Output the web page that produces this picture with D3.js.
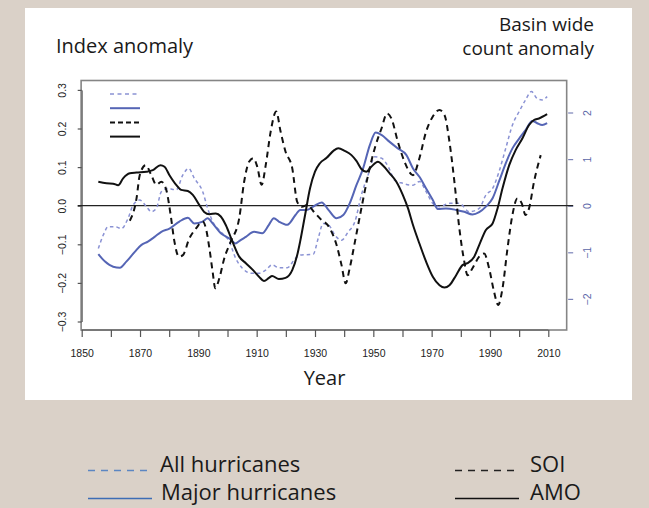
<!DOCTYPE html>
<html><head><meta charset="utf-8">
<script src="https://cdn.jsdelivr.net/npm/d3@7"></script>
<style>body{margin:0;background:#dad1c8;} svg{display:block}</style>
</head><body><svg id="c" width="649" height="508"></svg>
<script>
// ---- data ----
const tickYears = [1850,1860,1870,1880,1890,1900,1910,1920,1930,1940,1950,1960,1970,1980,1990,2000,2010];
const labelYears = [1850,1870,1890,1910,1930,1950,1970,1990,2010];
const leftTicks = [-0.3,-0.2,-0.1,0,0.1,0.2,0.3];
const rightTicks = [-2,-1,0,1,2];
const seriesNames = ["All hurricanes","Major hurricanes","SOI","AMO"];

// AMO index anomaly (left axis)
const amo = [[1855.7,0.062],[1858.5,0.058],[1860.8,0.057],[1862.5,0.053],[1864.2,0.071],[1866.5,0.084],[1868.8,0.086],[1872.2,0.088],[1874.4,0.092],[1877,0.105],[1878.4,0.101],[1880.1,0.079],[1882.4,0.054],[1884.1,0.041],[1886.4,0.038],[1888.1,0.028],[1890.3,0.002],[1892,-0.016],[1893.8,-0.022],[1896,-0.020],[1897.7,-0.028],[1899.4,-0.050],[1901.7,-0.093],[1904,-0.132],[1906.3,-0.149],[1908.5,-0.165],[1910.8,-0.184],[1912.5,-0.195],[1914.2,-0.187],[1915.3,-0.182],[1917.6,-0.190],[1919.9,-0.187],[1922.2,-0.167],[1923.9,-0.128],[1924.9,-0.093],[1926.6,-0.024],[1928.3,0.045],[1930,0.088],[1931.7,0.110],[1934,0.124],[1936.3,0.142],[1938,0.149],[1940.2,0.142],[1942.5,0.131],[1944.2,0.116],[1945.9,0.095],[1947.6,0.088],[1949.3,0.101],[1951.6,0.114],[1953.3,0.104],[1955.6,0.084],[1957.9,0.062],[1960.1,0.028],[1961.9,-0.007],[1963.6,-0.050],[1965.8,-0.098],[1968.1,-0.145],[1970.4,-0.184],[1972.7,-0.206],[1974.4,-0.212],[1976.1,-0.206],[1978.4,-0.180],[1980.6,-0.154],[1982.3,-0.149],[1984.6,-0.132],[1986.3,-0.102],[1988.6,-0.063],[1990.9,-0.046],[1992.6,-0.007],[1994.3,0.045],[1996.6,0.105],[1998.8,0.144],[2001.1,0.174],[2003.4,0.209],[2005.1,0.222],[2006.8,0.226],[2009.6,0.237]];

// SOI index anomaly (left axis)
const soi = [[1866.5,-0.039],[1868.8,0.019],[1869.9,0.079],[1871.9,0.105],[1873.9,0.079],[1875.6,0.054],[1877.3,0.062],[1879,0.041],[1880.5,-0.024],[1881.8,-0.093],[1883.3,-0.132],[1884.7,-0.128],[1886.9,-0.085],[1889.2,-0.059],[1891.5,-0.041],[1892.6,-0.059],[1893.8,-0.111],[1894.9,-0.171],[1895.8,-0.214],[1897.2,-0.188],[1898.9,-0.136],[1901.1,-0.093],[1904,-0.033],[1905.7,0.062],[1907.4,0.114],[1908.9,0.123],[1910.2,0.101],[1911.7,0.054],[1913.1,0.105],[1914.8,0.192],[1916.7,0.244],[1918.2,0.192],[1919.9,0.140],[1922.2,0.097],[1923.9,0.010],[1925.5,-0.003],[1927.5,0.002],[1929.5,-0.015],[1931.7,-0.033],[1935.1,-0.059],[1937.4,-0.102],[1939.1,-0.154],[1940.5,-0.201],[1941.9,-0.162],[1943.7,-0.093],[1945.9,-0.007],[1948.2,0.079],[1950.5,0.149],[1952.8,0.200],[1954.7,0.239],[1956.2,0.226],[1958.4,0.166],[1960.7,0.114],[1963.6,0.079],[1965.8,0.123],[1968.1,0.192],[1970.4,0.231],[1972.7,0.248],[1974.4,0.235],[1976.1,0.166],[1977.8,0.062],[1979.5,-0.059],[1981.2,-0.145],[1982.3,-0.180],[1984,-0.162],[1986.3,-0.132],[1988,-0.124],[1989.7,-0.162],[1991.4,-0.223],[1992.8,-0.257],[1994.3,-0.214],[1996,-0.111],[1997.7,-0.024],[1999.4,0.019],[2000.9,0.006],[2002.2,-0.024],[2003.4,-0.007],[2005.1,0.062],[2007.4,0.131]];

// All hurricanes count anomaly (right axis)
const allHur = [[1855.7,-0.92],[1857.4,-0.63],[1859.1,-0.45],[1861.4,-0.45],[1863.6,-0.49],[1865.9,-0.27],[1867.6,0.01],[1869.9,0.12],[1872.2,-0.02],[1873.9,-0.13],[1875.6,-0.06],[1877.3,0.30],[1879.5,0.37],[1882.4,0.34],[1884.7,0.66],[1886.7,0.80],[1888.6,0.59],[1891.5,0.30],[1893.2,-0.06],[1894.9,-0.34],[1897.7,-0.56],[1900.6,-0.77],[1902.8,-1.13],[1905.1,-1.34],[1908,-1.45],[1910.8,-1.45],[1913.1,-1.38],[1915.3,-1.27],[1917.6,-1.33],[1920.5,-1.33],[1923.3,-1.13],[1924.9,-1.06],[1929.4,-1.04],[1931.1,-0.70],[1932.8,-0.38],[1934.6,-0.41],[1936.8,-0.63],[1939.1,-0.74],[1941.4,-0.56],[1943.7,-0.34],[1945.9,0.23],[1948.2,0.66],[1950.5,1.05],[1952.8,1.02],[1955.1,0.84],[1957.3,0.55],[1960.1,0.48],[1963.6,0.44],[1965.8,0.52],[1968.1,0.30],[1970.4,0.05],[1972.7,-0.02],[1976.1,0.05],[1979.5,0.05],[1982.9,-0.13],[1986.3,-0.06],[1988.6,0.23],[1990.9,0.37],[1993.1,0.73],[1995.4,1.23],[1997.7,1.73],[2000,2.02],[2002.2,2.27],[2004.2,2.45],[2006.2,2.30],[2007.9,2.27],[2009.6,2.34]];

// Major hurricanes count anomaly (right axis)
const majorHur = [[1855.7,-1.04],[1858,-1.20],[1860.8,-1.31],[1863.1,-1.33],[1865.3,-1.20],[1868.2,-0.99],[1870.5,-0.84],[1872.7,-0.77],[1875,-0.67],[1877.3,-0.56],[1880.1,-0.49],[1883.5,-0.34],[1886.4,-0.26],[1888.6,-0.38],[1891.5,-0.34],[1893.2,-0.27],[1894.9,-0.38],[1897.7,-0.59],[1900.6,-0.70],[1902.8,-0.81],[1904,-0.76],[1906.3,-0.67],[1909.1,-0.56],[1911.9,-0.59],[1914.2,-0.41],[1915.9,-0.27],[1917.6,-0.34],[1920.5,-0.41],[1923.3,-0.20],[1924.9,-0.09],[1927.2,-0.09],[1929.4,-0.02],[1932.3,0.07],[1934.6,-0.09],[1937.4,-0.27],[1939.7,-0.20],[1941.9,0.05],[1944.2,0.44],[1946.5,0.80],[1948.8,1.30],[1950.8,1.57],[1952.8,1.52],[1955.6,1.37],[1958.4,1.23],[1961.3,1.09],[1963.6,0.80],[1965.8,0.62],[1968.1,0.37],[1970.4,0.12],[1972.1,-0.07],[1974.9,-0.06],[1978.4,-0.09],[1981.2,-0.13],[1984,-0.19],[1986.3,-0.14],[1988.6,-0.02],[1990.9,0.16],[1993.1,0.52],[1995.4,0.91],[1997.7,1.23],[2000,1.44],[2002.2,1.62],[2004.5,1.82],[2006.2,1.77],[2007.9,1.73],[2009.6,1.77]];

// ---- drawing ----
const svg = d3.select("#c");
svg.append("rect").attr("x",0).attr("y",0).attr("width",649).attr("height",508).attr("fill","#dad1c8");
svg.append("rect").attr("x",25).attr("y",8).attr("width",607).attr("height",392).attr("fill","#ffffff");

const x = d3.scaleLinear().domain([1850,2010]).range([81.7,548.3]);
const yL = d3.scaleLinear().domain([-0.3,0.3]).range([321.5,89.9]);
const yR = d3.scaleLinear().domain([-2,2]).range([298.9,112.5]);
const box = {x0: x(1849.8), x1: x(2016.3), y0: 80.5, y1: 330};

// plot box
svg.append("rect").attr("x",box.x0).attr("y",box.y0).attr("width",box.x1-box.x0).attr("height",box.y1-box.y0)
  .attr("fill","none").attr("stroke","#858585").attr("stroke-width",1.6);

const tickFont = "'Liberation Sans', Arial, sans-serif";

// bottom axis
const gx = svg.append("g").attr("transform",`translate(0,${box.y1})`)
  .call(d3.axisBottom(x).tickValues(tickYears).tickSize(7).tickSizeOuter(0)
    .tickFormat(d => labelYears.includes(d) ? String(d) : ""));
gx.select(".domain").attr("stroke","#555").attr("d",`M${x(1850)},0H${x(2010)}`);
gx.selectAll(".tick line").attr("stroke","#555").attr("stroke-width",1.2);
gx.selectAll("text").attr("y",26.5).attr("dy",0).attr("fill","#222")
  .style("font-family",tickFont).style("font-size","10.5px");

// left axis
const gl = svg.append("g").attr("transform",`translate(${x(1850)},0)`)
  .call(d3.axisLeft(yL).tickValues(leftTicks).tickSize(4).tickSizeOuter(0).tickFormat(d3.format(".1f")));
gl.select(".domain").attr("stroke","#555");
gl.selectAll(".tick line").attr("stroke","#555").attr("stroke-width",1.2);
gl.selectAll("text").attr("transform","rotate(-90)").attr("x",0).attr("y",-15.3).attr("dy",0)
  .attr("text-anchor","middle").attr("fill","#222")
  .style("font-family",tickFont).style("font-size","10.5px");

// right axis
const gr = svg.append("g").attr("transform",`translate(${box.x1},0)`)
  .call(d3.axisRight(yR).tickValues(rightTicks).tickSize(6).tickSizeOuter(0).tickFormat(d3.format("d")));
gr.select(".domain").remove();
gr.selectAll(".tick line").attr("x1",1.5).attr("x2",6.5).attr("stroke","#7a82b8").attr("stroke-width",1.2);
gr.selectAll("text").attr("transform","rotate(-90)").attr("x",0).attr("y",24.8).attr("dy",0)
  .attr("text-anchor","middle").attr("fill","#5a66a8")
  .style("font-family",tickFont).style("font-size","10.5px");

// zero line
svg.append("line").attr("x1",x(1850)-4).attr("x2",box.x1+6.5).attr("y1",yL(0)).attr("y2",yL(0))
  .attr("stroke","#222").attr("stroke-width",1.3);

// series
const lineL = d3.line().x(d=>x(d[0])).y(d=>yL(d[1])).curve(d3.curveMonotoneX);
const lineR = d3.line().x(d=>x(d[0])).y(d=>yR(d[1])).curve(d3.curveMonotoneX);

const styles = {
  all:   {stroke:"#8a92d4", w:1.5, dash:"3.5,3"},
  major: {stroke:"#5565b5", w:2,   dash:null},
  soi:   {stroke:"#111",    w:2,   dash:"6,4.5"},
  amo:   {stroke:"#111",    w:2,   dash:null}
};
function drawSeries(data, gen, st){
  const p = svg.append("path").datum(data).attr("d",gen).attr("fill","none")
    .attr("stroke",st.stroke).attr("stroke-width",st.w).attr("stroke-linejoin","round");
  if (st.dash) p.attr("stroke-dasharray",st.dash);
}
drawSeries(allHur, lineR, styles.all);
drawSeries(majorHur, lineR, styles.major);
drawSeries(soi, lineL, styles.soi);
drawSeries(amo, lineL, styles.amo);

// inner legend samples (no text)
[styles.all, styles.major, styles.soi, styles.amo].forEach((st,i)=>{
  const yy = 94 + i*14.2;
  const l = svg.append("line").attr("x1",110).attr("x2",140).attr("y1",yy).attr("y2",yy)
    .attr("stroke",st.stroke).attr("stroke-width",st.w);
  if (st.dash) l.attr("stroke-dasharray", i===0 ? "4,3.5" : "5,3");
});

// titles
const titleFont = "'Open Sans', sans-serif";
svg.append("text").attr("x",56).attr("y",53).text("Index anomaly")
  .style("font-family",titleFont).style("font-size","20px").style("font-weight",500).attr("fill","#1a1a1a");
svg.append("text").attr("x",594).attr("y",31).attr("text-anchor","end").text("Basin wide")
  .style("font-family",titleFont).style("font-size","19px").style("font-weight",500).attr("fill","#1a1a1a");
svg.append("text").attr("x",594).attr("y",55).attr("text-anchor","end").text("count anomaly")
  .style("font-family",titleFont).style("font-size","19px").style("font-weight",500).attr("fill","#1a1a1a");
svg.append("text").attr("x",324.5).attr("y",385).attr("text-anchor","middle").text("Year")
  .style("font-family",titleFont).style("font-size","20px").style("font-weight",500).attr("fill","#1a1a1a");

// bottom legend
const legItems = [
  {name:seriesNames[0], lx:88,  tx:160, y:472, stroke:"#5b86c2", dash:"7,6", w:1.4},
  {name:seriesNames[1], lx:88,  tx:161, y:500, stroke:"#3d6db5", dash:null, w:1.4},
  {name:seriesNames[2], lx:455, tx:530, y:472, stroke:"#222",    dash:"7,6", w:1.4},
  {name:seriesNames[3], lx:455, tx:530, y:500, stroke:"#111",    dash:null, w:1.4}
];
legItems.forEach(it=>{
  const l = svg.append("line").attr("x1",it.lx).attr("x2",it.lx+64).attr("y1",it.y-1.5).attr("y2",it.y-1.5)
    .attr("stroke",it.stroke).attr("stroke-width",it.w);
  if (it.dash) l.attr("stroke-dasharray",it.dash);
  svg.append("text").attr("x",it.tx).attr("y",it.y).text(it.name)
    .style("font-family",titleFont).style("font-size","22px").style("font-weight",500).attr("fill","#1a1a1a");
});
</script>
</body></html>
